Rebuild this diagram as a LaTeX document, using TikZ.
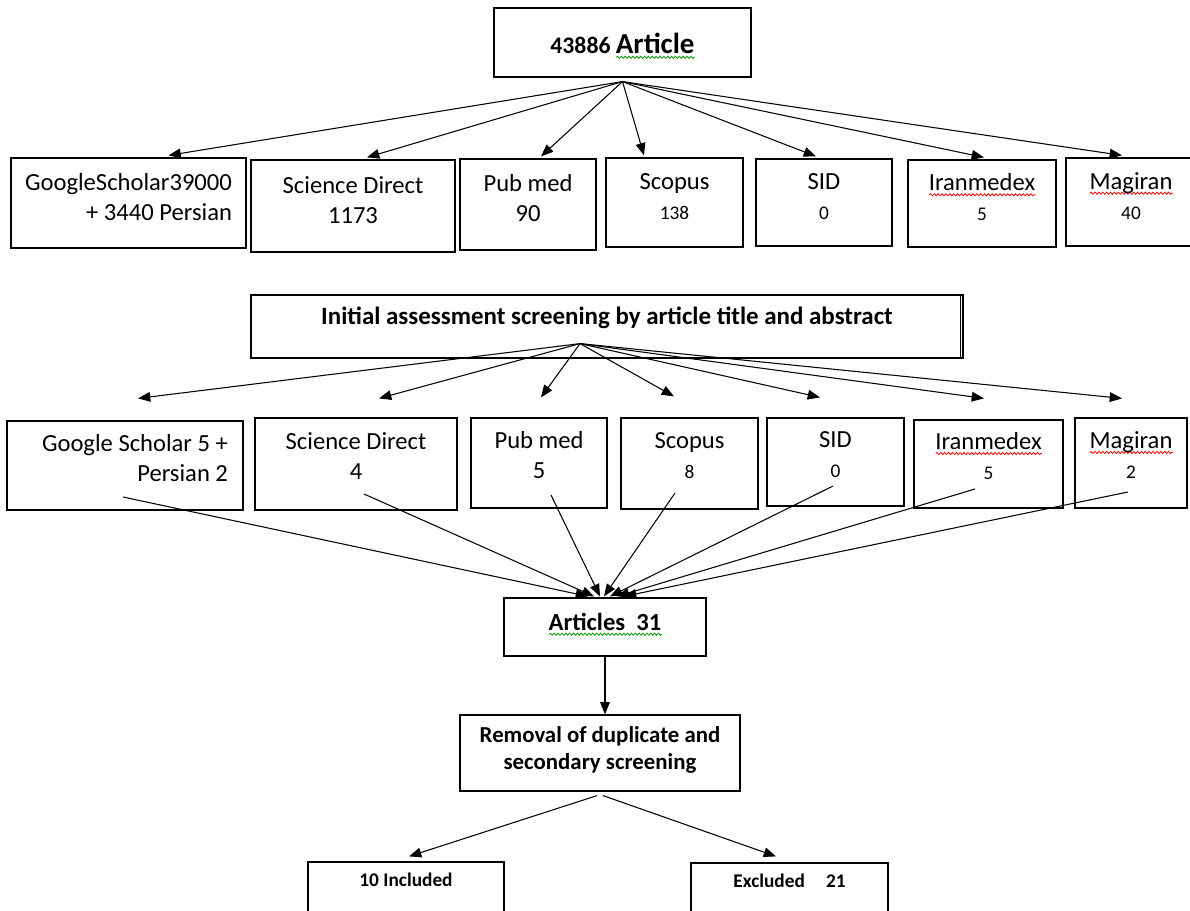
\documentclass[tikz,border=0pt]{standalone}
\usepackage{fontspec}
\setmainfont{Carlito}
\usetikzlibrary{arrows.meta,calc,decorations.pathmorphing}

\newsavebox\wavebox
\newlength\wavelen
\newcommand\wavy[2]{\sbox\wavebox{#2}\setlength\wavelen{\wd\wavebox}%
	\rlap{\raisebox{-3pt}{\tikz\draw[#1,fill=none,line width=0.45pt,decorate,
		decoration={snake,amplitude=0.6pt,segment length=2.2pt}] (0pt,0pt) -- (\wavelen,0pt);}}%
	\usebox\wavebox}
\newcommand\numsm[1]{{\fontsize{11}{13}\selectfont #1}}

\begin{document}
\begin{tikzpicture}[x=0.02cm,y=-0.02cm,>={Triangle[length=7pt,width=5.5pt]}]

			\tikzstyle{box}=[fill=white,draw=black,line width=0.7pt,
				inner sep=2pt,align=center,
				font=\fontsize{14}{17}\selectfont]
			\tikzstyle{head}=[box,
				font=\bfseries\fontsize{13}{15.5}\selectfont]
			\tikzstyle{link}=[->,line width=0.6pt]

			\useasboundingbox (0,0) rectangle (1190,911);

			\node[head,font=\bfseries\fontsize{13.5}{16}\selectfont,
				minimum width=5.14cm,minimum height=1.38cm,text height=12.5pt,text depth=0pt]	(art)	at (622.5,42.5)
				{43886 {\fontsize{16.5}{19}\selectfont\wavy{green!60!black}{Article}}};

			\node[box,minimum width=4.7cm,minimum height=1.8cm,align=right,text depth=7pt]	(gs1)	at (128.5,203)	{GoogleScholar39000\\+ 3440 Persian};
			\node[box,minimum width=4.08cm,minimum height=1.84cm,text depth=7pt]	(sd1)	at (353,206)	{Science Direct\\1173};
			\node[box,minimum width=2.72cm,minimum height=1.82cm,text depth=7pt]	(pm1)	at (528,204.5)	{Pub med\\90};
			\node[box,minimum width=2.74cm,minimum height=1.78cm,text depth=7pt]	(sc1)	at (674.5,202.5)	{Scopus\\\numsm{138}};
			\node[box,minimum width=2.72cm,minimum height=1.74cm,text depth=7pt]	(sid1)	at (824,202.5)	{SID\\\numsm{0}};
			\node[box,minimum width=2.96cm,minimum height=1.74cm,text depth=7pt]	(ir1)	at (982,203.5)	{\wavy{red}{Iranmedex}\\\numsm{5}};
			\node[box,minimum width=2.6cm,minimum height=1.76cm,text depth=7pt]	(mg1)	at (1131,202)	{\wavy{red}{Magiran}\\\numsm{40}};

			\node[head,font=\bfseries\fontsize{14.2}{17}\selectfont,
				minimum width=14.24cm,minimum height=1.26cm,text depth=12pt]	(scr)	at (607,326.5)
				{Initial assessment screening by article title and abstract};
			\draw[line width=0.7pt] ($(scr.north east)+(-3,0)$) -- ($(scr.south east)+(-3,0)$);

			\node[box,minimum width=4.72cm,minimum height=1.78cm,align=right,text depth=9pt]	(gs2)	at (125,465.5)	{\hspace*{0.4cm}Google Scholar 5 +\\Persian 2};
			\node[box,minimum width=4.04cm,minimum height=1.84cm,text depth=9pt]	(sd2)	at (356,464)	{Science Direct\\4};
			\node[box,minimum width=2.72cm,minimum height=1.8cm,text depth=9pt]	(pm2)	at (539,463)	{Pub med\\5};
			\node[box,minimum width=2.74cm,minimum height=1.82cm,text depth=9pt]	(sc2)	at (689.5,463.5)	{Scopus\\\numsm{8}};
			\node[box,minimum width=2.74cm,minimum height=1.76cm,text depth=9pt]	(sid2)	at (835.5,462)	{SID\\\numsm{0}};
			\node[box,minimum width=2.98cm,minimum height=1.76cm,text depth=9pt]	(ir2)	at (988.5,464)	{\wavy{red}{Iranmedex}\\\numsm{5}};
			\node[box,minimum width=2.24cm,minimum height=1.8cm,text depth=9pt]	(mg2)	at (1131,463)	{\wavy{red}{Magiran}\\\numsm{2}};

			\node[head,font=\bfseries\fontsize{14}{17}\selectfont,
				minimum width=4.04cm,minimum height=1.16cm,text depth=6pt]	(artc)	at (605,627)
				{\wavy{green!60!black}{Articles~~31}};
			\node[head,minimum width=5.6cm,minimum height=1.52cm,text depth=6pt]	(rem)	at (600,753)
				{Removal of duplicate and\\secondary screening};
			\node[head,font=\bfseries\fontsize{11}{13}\selectfont,
				minimum width=3.92cm,minimum height=1.46cm,text depth=21pt]	(inc)	at (406,898.5)	{10 Included};
			\node[head,font=\bfseries\fontsize{11}{13}\selectfont,
				minimum width=3.94cm,minimum height=1.44cm,text depth=21pt]	(exc)	at (789.5,899)	{Excluded\hspace{12pt}21};

			\coordinate (src1) at ($(art.south)+(0,4)$);
			\draw[link] (src1) -- ($(gs1.north)+(40,-2)$);
			\draw[link] (src1) -- ($(sd1.north)+(14,-2)$);
			\draw[link] (src1) -- ($(pm1.north)+(13,-2)$);
			\draw[link] (src1) -- ($(sc1.north)+(-30.5,-2)$);
			\draw[link] (src1) -- ($(sid1.north)+(-8,-2)$);
			\draw[link] (src1) -- ($(ir1.north)+(2,-2)$);
			\draw[link] (src1) -- ($(mg1.north)+(-9,-2)$);

			\coordinate (src2) at ($(scr.south)+(-27,-15)$);
			\draw[link] (src2) -- ($(gs2.north)+(13,-22)$);
			\draw[link] (src2) -- ($(sd2.north)+(23,-19)$);
			\draw[link] (src2) -- ($(pm2.north)+(2,-20)$);
			\draw[link] (src2) -- ($(sc2.north)+(-15.5,-21)$);
			\draw[link] (src2) -- ($(sid2.north)+(-15.5,-20)$);
			\draw[link] (src2) -- ($(ir2.north)+(-4.5,-21)$);
			\draw[link] (src2) -- ($(mg2.north)+(-9,-19)$);

			\draw[link] ($(gs2.center)+(-2,31.5)$) -- ($(artc.north)+(-17,-1)$);
			\draw[link] ($(sd2.center)+(8,30)$) -- ($(artc.north)+(-11,-1)$);
			\draw[link] ($(pm2.center)+(12,32)$) -- ($(artc.north)+(-5,-1)$);
			\draw[link] ($(sc2.center)+(-14.5,29.5)$) -- ($(artc.north)+(-1,-1)$);
			\draw[link] ($(sid2.center)+(-2.5,24)$) -- ($(artc.north)+(5,-1)$);
			\draw[link] ($(ir2.center)+(-13.5,25)$) -- ($(artc.north)+(12,-1)$);
			\draw[link] ($(mg2.center)+(-3,29)$) -- ($(artc.north)+(19,-1)$);

			\draw[link] (artc.south) -- (artc.south |- rem.north);
			\draw[link] ($(rem.south)+(-3,4)$) -- ($(inc.north)+(3,-5)$);
			\draw[link] ($(rem.south)+(3,4)$) -- ($(exc.north)+(-13.5,-6)$);

\end{tikzpicture}
\end{document}
